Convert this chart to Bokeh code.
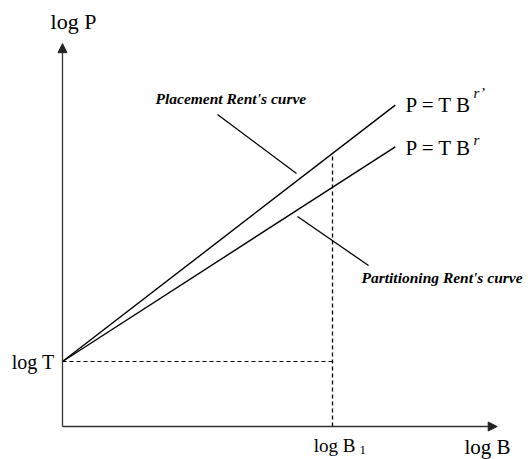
from bokeh.plotting import figure
from bokeh.models import Range1d, Arrow, NormalHead
from bokeh.core.properties import value
from bokeh.embed import file_html
from bokeh.resources import INLINE

# Rent's rule in log-log space: log P = log T + r * log B
log_T = 1.0
r_placement = 0.80
r_partition = 0.67
log_B1 = 4.0
log_B_end = 4.93

curve_exponents = [r_placement, r_partition]
curve_names = ["Placement Rent's curve", "Partitioning Rent's curve"]
curve_formula = ["P = T B", "P = T B"]
curve_superscripts = ["r\u2019", "r"]

axis_x_end = 6.44
axis_y_end = 5.89

# layout: pixels per unit and origin position inside the canvas
W, H = 528, 459
PX_X, PX_Y = 67.5, 65.0
ORIGIN_LEFT, ORIGIN_TOP = 62, 426


def dx(px):
    """canvas x pixel -> data x"""
    return (px - ORIGIN_LEFT) / PX_X


def dy(py):
    """canvas y pixel (from top) -> data y"""
    return (ORIGIN_TOP - py) / PX_Y


SERIF = value("Liberation Serif")

p = figure(width=W, height=H,
           x_range=Range1d(dx(0), dx(W)), y_range=Range1d(dy(H), dy(0)),
           output_backend="svg", toolbar_location=None, min_border=0,
           x_axis_location=None, y_axis_location=None)
p.grid.visible = False
p.outline_line_color = None
p.background_fill_color = "white"
p.border_fill_color = "white"

# coordinate axes with arrow heads
for xe, ye in [(axis_x_end, 0.0), (0.0, axis_y_end)]:
    p.add_layout(Arrow(end=NormalHead(size=9, line_color="#222", fill_color="#222", line_width=1),
                       x_start=0, y_start=0, x_end=xe, y_end=ye,
                       line_color="#333", line_width=1.3))

# the two Rent's curves
for r in curve_exponents:
    p.line([0, log_B_end], [log_T, log_T + r * log_B_end], line_color="black", line_width=1.4)

# dashed guides at log T and log B1
p.line([0, log_B1], [log_T, log_T], line_color="black", line_width=1.1, line_dash="4 3")
p.line([log_B1, log_B1], [0, log_T + r_placement * log_B1], line_color="black",
       line_width=1.3, line_dash="4 3")

# leader lines from the captions to the curves
p.line([dx(217), dx(296)], [dy(114), dy(173)], line_color="black", line_width=1.3)
p.line([dx(297), dx(368)], [dy(216), dy(265)], line_color="black", line_width=1.3)

# captions
p.text(x=[dx(155)], y=[dy(98)], text=[curve_names[0]], text_font=SERIF,
       text_font_style="bold italic", text_font_size="15.5px",
       text_baseline="middle", text_align="left")
p.text(x=[dx(361)], y=[dy(277)], text=[curve_names[1]], text_font=SERIF,
       text_font_style="bold italic", text_font_size="15.5px",
       text_baseline="middle", text_align="left")

# formulas with superscript exponents
fy = [dy(104), dy(147)]
sy = [dy(92), dy(139)]
p.text(x=[dx(405)] * 2, y=fy, text=curve_formula, text_font=SERIF,
       text_font_size="21px", text_baseline="middle", text_align="left")
p.text(x=[dx(473)] * 2, y=sy, text=curve_superscripts, text_font=SERIF,
       text_font_style="italic", text_font_size="15px", text_baseline="middle",
       text_align="left")

# axis labels
p.text(x=[dx(73)], y=[dy(21)], text=["log P"], text_font=SERIF,
       text_font_size="22px", text_align="center", text_baseline="middle")
p.text(x=[dx(54)], y=[log_T], text=["log T"], text_font=SERIF,
       text_font_size="20px", text_align="right", text_baseline="middle")
p.text(x=[dx(464)], y=[dy(446)], text=["log B"], text_font=SERIF,
       text_font_size="21px", text_align="left", text_baseline="middle")
p.text(x=[dx(355)], y=[dy(445)], text=["log B"], text_font=SERIF,
       text_font_size="19px", text_align="right", text_baseline="middle")
p.text(x=[dx(359)], y=[dy(449)], text=["1"], text_font=SERIF,
       text_font_size="13px", text_align="left", text_baseline="middle")

open("out.html", "w").write(file_html(p, INLINE))
